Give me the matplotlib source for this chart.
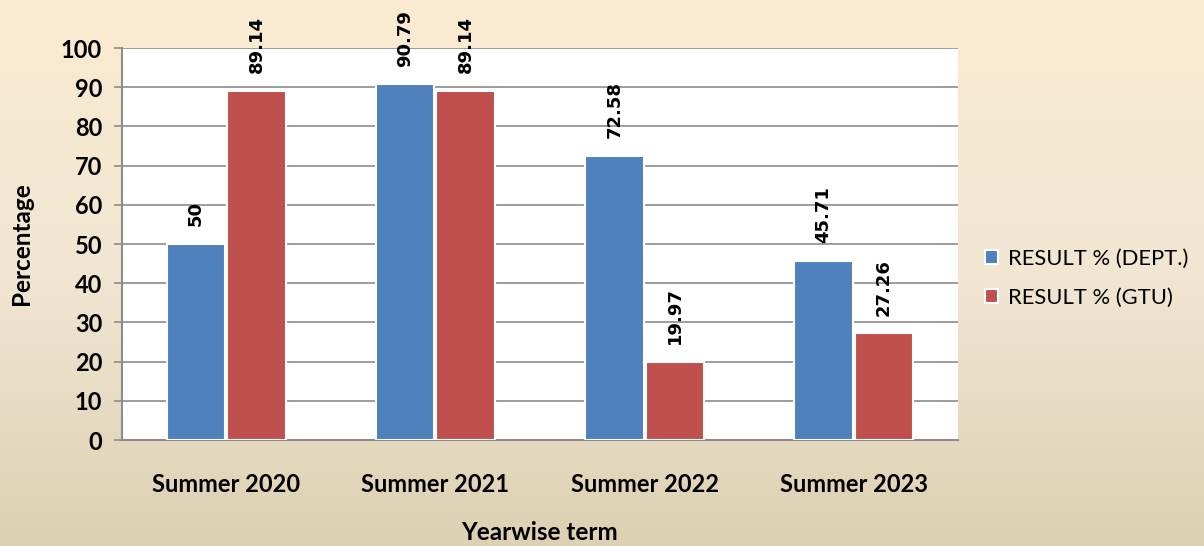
import numpy as np
import matplotlib
matplotlib.use("Agg")
import matplotlib.pyplot as plt
from matplotlib.colors import LinearSegmentedColormap

terms = ["Summer 2020", "Summer 2021", "Summer 2022", "Summer 2023"]
dept = [50, 90.79, 72.58, 45.71]
gtu = [89.14, 89.14, 19.97, 27.26]
dept_labels = ["50", "90.79", "72.58", "45.71"]
gtu_labels = ["89.14", "89.14", "19.97", "27.26"]
series_names = ["RESULT % (DEPT.)", "RESULT % (GTU)"]
yticks = list(range(0, 101, 10))

BLUE = "#4F81BD"
RED = "#C0504D"

fig = plt.figure(figsize=(12.04, 5.46), dpi=100)

# background gradient (cream top -> tan bottom)
bg = fig.add_axes([0, 0, 1, 1], zorder=-10)
grad = np.linspace(0, 1, 256).reshape(-1, 1)
cmap = LinearSegmentedColormap.from_list("bg", ["#FBEBD1", "#F0E6D2", "#DDD1B3"])
bg.imshow(grad, aspect="auto", cmap=cmap, extent=[0, 1, 0, 1], origin="upper")
bg.axis("off")

ax = fig.add_axes([0.101, 0.194, 0.695, 0.718])
ax.set_facecolor("white")
x = np.arange(len(terms))
w = 0.28
b1 = ax.bar(x - w / 2 - 0.005, dept, w, color=BLUE, edgecolor="white", linewidth=1.5,
            label=series_names[0], zorder=3)
b2 = ax.bar(x + w / 2 + 0.005, gtu, w, color=RED, edgecolor="white", linewidth=1.5,
            label=series_names[1], zorder=3)

lab_font = dict(family="DejaVu Sans", fontsize=13, fontweight="bold", rotation=90,
                ha="center", va="bottom", color="black", zorder=4)
for rect, txt in zip(b1, dept_labels):
    ax.text(rect.get_x() + rect.get_width() / 2, rect.get_height() + 4.5, txt, **lab_font)
for rect, txt in zip(b2, gtu_labels):
    ax.text(rect.get_x() + rect.get_width() / 2, rect.get_height() + 4.5, txt, **lab_font)

ax.set_xlim(-0.5, 3.5)
ax.set_ylim(0, 100)
ax.set_yticks(yticks)
ax.set_xticks(x)
ax.set_xticklabels(terms, fontfamily="Lato", fontweight="bold", fontsize=17)
for t in ax.get_yticklabels():
    t.set_fontfamily("Lato")
    t.set_fontweight("bold")
    t.set_fontsize(17)
ax.tick_params(axis="x", length=0, pad=24)
ax.tick_params(axis="y", length=6, width=1.2, color="#8C8C8C", pad=8)
ax.grid(axis="y", color="#8C8C8C", linewidth=1.2, zorder=0)
for s in ["top", "right"]:
    ax.spines[s].set_visible(False)
for s in ["left", "bottom"]:
    ax.spines[s].set_color("#8C8C8C")
    ax.spines[s].set_linewidth(1.5)

ax.set_ylabel("Percentage", fontfamily="Lato", fontweight="bold", fontsize=17.5, labelpad=20)
ax.set_xlabel("Yearwise term", fontfamily="Lato", fontweight="bold", fontsize=17.5, labelpad=18)

fig.legend(handles=[b1, b2], labels=series_names, loc="center left",
           bbox_to_anchor=(0.818, 0.49), frameon=False, borderpad=0, borderaxespad=0,
           handlelength=0.6, handleheight=0.6, handletextpad=0.45, labelspacing=0.85,
           prop={"family": "Lato", "size": 15.8})

fig.savefig("out.png", dpi=100)
